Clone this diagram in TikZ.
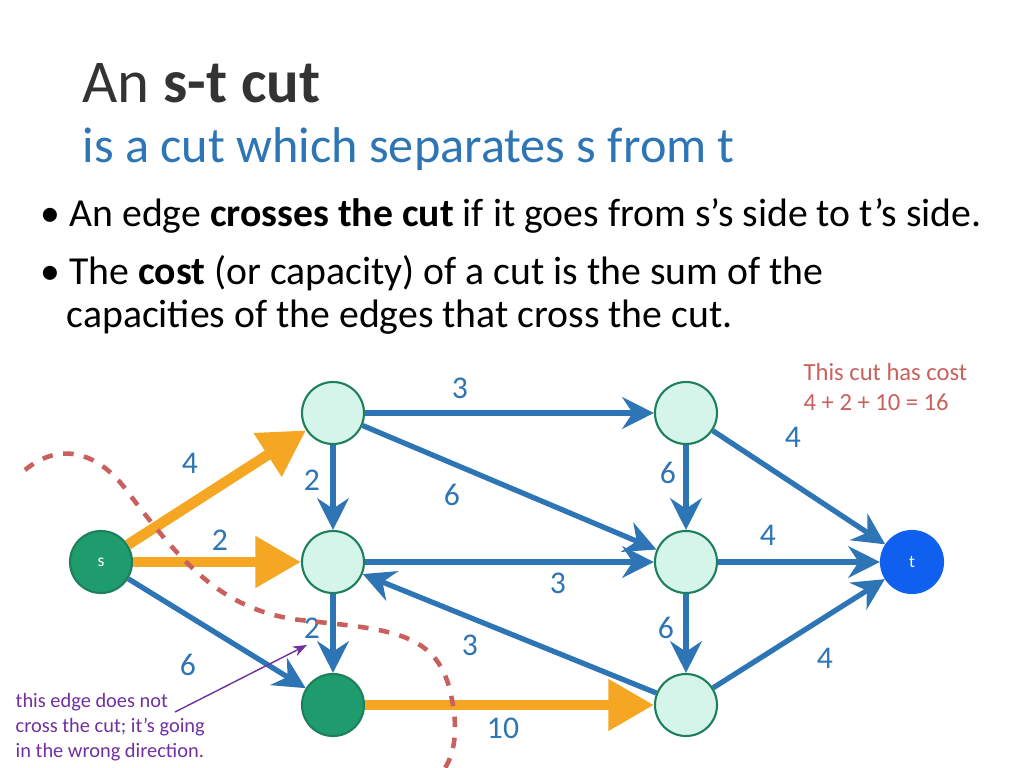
\documentclass[tikz,border=0pt]{standalone}
\usepackage{fontspec}
\setmainfont{Carlito}
\usetikzlibrary{arrows.meta,positioning}
\definecolor{eblue}{HTML}{2E75B6}
\definecolor{eorange}{HTML}{F5A623}
\definecolor{nfill}{HTML}{D5F5EA}
\definecolor{nline}{HTML}{1E7F5C}
\definecolor{sgreen}{HTML}{1E9C6E}
\definecolor{tblue}{HTML}{1060F0}
\definecolor{cutred}{HTML}{C9605E}
\definecolor{notepurple}{HTML}{7030A0}
\tikzset{
  vert/.style={circle, draw=nline, fill=nfill, minimum size=0.62cm, inner sep=0pt, line width=0.6pt},
  blueedge/.style={draw=eblue, line width=1.5pt, -{Stealth[length=9pt,width=9pt]}},
  orangeedge/.style={draw=eorange, line width=3pt, -{Triangle[length=13pt,width=14pt]}},
  wt/.style={text=eblue, font=\fontsize{9}{10}\selectfont},
  bullettext/.style={anchor=base west, inner sep=0pt, font=\fontsize{11.3}{13}\selectfont}
}
\begin{document}
\begin{tikzpicture}
\useasboundingbox (0,0) rectangle (10.24,-7.68);
% title
\node[anchor=base west, inner sep=0pt, text=black!80, font=\fontsize{17.3}{19}\selectfont] (title) at (0.82,-1.03) {An \textbf{s-t cut}};
\node[anchor=base west, inner sep=0pt, text=eblue, font=\fontsize{14.3}{16}\selectfont] (subtitle) at (0.82,-1.63) {is a cut which separates s from t};
\node[bullettext] (b1) at (0.40,-2.26) {\textbullet\ An edge \textbf{crosses the cut} if it goes from s’s side to t’s side.};
\node[bullettext] (b2) at (0.40,-2.84) {\textbullet\ The \textbf{cost} (or capacity) of a cut is the sum of the};
\node[bullettext] (b3) at (0.66,-3.28) {capacities of the edges that cross the cut.};
% place nodes
\node[vert, fill=sgreen, text=white, font=\tiny] (s) at (1.01,-5.62) {s};
\node[vert, fill=tblue, draw=tblue, text=white, font=\tiny] (t) at (9.12,-5.62) {t};
\node[vert] (a) at (3.33,-4.13) {};
\node[vert] (b) at (3.33,-5.62) {};
\node[vert, fill=sgreen] (c) at (3.33,-7.05) {};
\node[vert] (d) at (6.86,-4.13) {};
\node[vert] (e) at (6.86,-5.62) {};
\node[vert] (f) at (6.86,-7.05) {};
% draw edges
\path[blueedge] (s) -- (c);
\path[blueedge] (a) -- (d);
\path[blueedge] (a) -- (b);
\path[blueedge] (a) -- (e);
\path[blueedge] (d) -- (e);
\path[blueedge] (d) -- (t);
\path[blueedge] (b) -- (e);
\path[blueedge] (f) -- (b);
\path[blueedge] (b) -- (c);
\path[blueedge] (e) -- (t);
\path[blueedge] (e) -- (f);
\path[blueedge] (f) -- (t);
\path[orangeedge] (s) -- (a);
\path[orangeedge] (s) -- (b);
\path[orangeedge] (c) -- (f);
% weights
\node[wt] (w1) at (4.60,-3.88) {3};
\node[wt] (w2) at (7.93,-4.37) {4};
\node[wt] (w3) at (1.90,-4.63) {4};
\node[wt] (w4) at (3.12,-4.80) {2};
\node[wt] (w5) at (4.52,-4.95) {6};
\node[wt] (w6) at (6.68,-4.73) {6};
\node[wt] (w7) at (2.20,-5.40) {2};
\node[wt] (w8) at (7.68,-5.35) {4};
\node[wt] (w9) at (5.58,-5.83) {3};
\node[wt] (w10) at (3.12,-6.28) {2};
\node[wt] (w11) at (6.66,-6.28) {6};
\node[wt] (w12) at (4.70,-6.45) {3};
\node[wt] (w13) at (1.88,-6.65) {6};
\node[wt] (w14) at (8.25,-6.58) {4};
\node[wt] (w15) at (5.03,-7.28) {10};
% cut
\draw[cutred, dashed, line width=1.3pt] (0.25,-4.70) .. controls (0.55,-4.45) and (0.95,-4.45) .. (1.30,-4.95)
  .. controls (1.80,-5.60) and (2.20,-6.10) .. (3.00,-6.20)
  .. controls (3.90,-6.30) and (4.40,-6.30) .. (4.52,-7.00)
  .. controls (4.60,-7.40) and (4.50,-7.60) .. (4.45,-7.68);
% annotations
\node[anchor=west, inner sep=0pt, text=cutred, font=\fontsize{7}{8.5}\selectfont, align=left] (costnote) at (8.03,-3.87) {This cut has cost\\4 + 2 + 10 = 16};
\node[anchor=west, inner sep=0pt, text=notepurple, font=\fontsize{5.8}{7.2}\selectfont, align=left] (note) at (0.15,-7.27) {this edge does not\\cross the cut; it’s going\\in the wrong direction.};
\coordinate (notetip) at (3.07,-6.45);
\draw[notepurple, line width=0.4pt, -{Stealth[length=4pt]}] (1.75,-7.12) -- (notetip);
\end{tikzpicture}
\end{document}
